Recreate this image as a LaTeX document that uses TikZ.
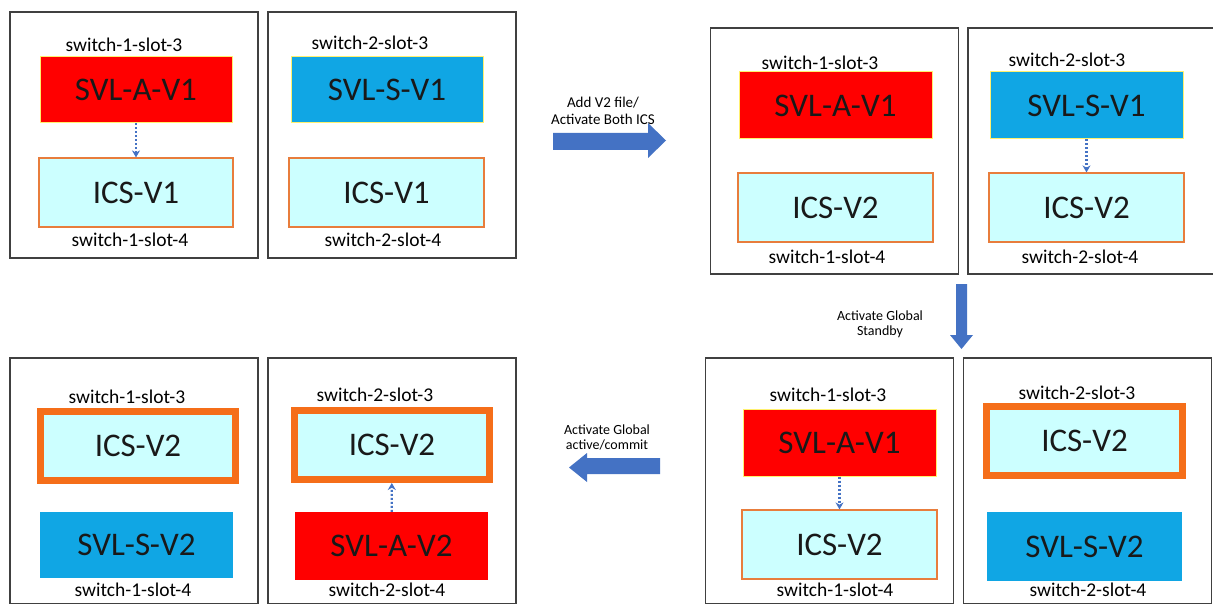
\documentclass[tikz,border=0pt]{standalone}
\usepackage{fontspec}
\setmainfont{Carlito}
\usetikzlibrary{arrows.meta}

\definecolor{svlred}{RGB}{255,0,0}
\definecolor{svlblue}{RGB}{16,166,228}
\definecolor{icscyan}{RGB}{204,255,255}
\definecolor{icsorange}{RGB}{232,125,60}
\definecolor{hotorange}{RGB}{245,110,25}
\definecolor{edgeyellow}{RGB}{255,240,110}
\definecolor{flowblue}{RGB}{68,114,196}

\tikzset{
  panel/.style={draw=black!75, line width=1.5pt, minimum width=248, minimum height=246, inner sep=0pt},
  slotlbl/.style={font=\fontsize{19.5}{22}\selectfont, inner sep=0pt},
  unit/.style={inner sep=0pt, font=\fontsize{33}{36}\selectfont, text=black!90},
  svla/.style={unit, fill=svlred, draw=edgeyellow, line width=1pt},
  svls/.style={unit, fill=svlblue, draw=edgeyellow, line width=1pt},
  svlsplain/.style={unit, fill=svlblue},
  svlaplain/.style={unit, fill=svlred},
  icsbox/.style={unit, fill=icscyan, draw=icsorange, line width=1.2pt},
  icsnew/.style={unit, fill=icscyan, draw=hotorange, line width=7pt},
  link/.style={draw=flowblue, line width=2.2pt, dash pattern=on 2pt off 2pt, -{Stealth[length=7pt,width=8pt]}},
  steptxt/.style={font=\fontsize{15}{17}\selectfont, align=center, inner sep=0pt},
  steptxtsm/.style={font=\fontsize{14}{15}\selectfont, align=center, inner sep=0pt}
}

\begin{document}
\begin{tikzpicture}[x=1pt,y=-1pt]
  \useasboundingbox (0,0) rectangle (1213,604);
  \clip (0,0) rectangle (1213,604);
  \fill[white] (0,0) rectangle (1213,604);

  % step 1: top left
  \node[panel] (p1) at (134,135) {};
  \node[panel] (p2) at (392,135) {};
  \node[slotlbl] (p1top) at (124,45) {switch-1-slot-3};
  \node[svla, minimum width=192, minimum height=66] (a1) at (136,90) {SVL-A-V1};
  \node[icsbox, minimum width=194, minimum height=69] (i1) at (136,192.5) {ICS-V1};
  \node[slotlbl] (p1bot) at (130,240) {switch-1-slot-4};
  \draw[link] (a1) -- (i1);
  \node[slotlbl] (p2top) at (370,43) {switch-2-slot-3};
  \node[svls, minimum width=192, minimum height=66] (s2) at (387,90) {SVL-S-V1};
  \node[icsbox, minimum width=195, minimum height=69] (i2) at (386.5,192.5) {ICS-V1};
  \node[slotlbl] (p2bot) at (383,240) {switch-2-slot-4};

  % arrow to step 2
  \fill[flowblue] (553,133) -- (648,133) -- (648,123) -- (666,140.5) -- (648,158) -- (648,150) -- (553,150) -- cycle;
  \node[steptxt] (addv2) at (603,111) {Add V2 file/\\Activate Both ICS};

  % step 2: top right
  \node[panel] (p3) at (834.5,151) {};
  \node[panel] (p4) at (1092,151) {};
  \node[slotlbl] (p3top) at (820,63) {switch-1-slot-3};
  \node[svla, minimum width=193, minimum height=67] (a3) at (835.5,105.5) {SVL-A-V1};
  \node[icsbox, minimum width=195, minimum height=69] (i3) at (835.5,207.5) {ICS-V2};
  \node[slotlbl] (p3bot) at (827,257) {switch-1-slot-4};
  \node[slotlbl] (p4top) at (1067,60) {switch-2-slot-3};
  \node[svls, minimum width=193, minimum height=67] (s4) at (1086.5,105.5) {SVL-S-V1};
  \node[icsbox, minimum width=195, minimum height=69] (i4) at (1086.5,207.5) {ICS-V2};
  \node[slotlbl] (p4bot) at (1080,257) {switch-2-slot-4};
  \draw[link] (s4) -- (i4);

  % arrow to step 3
  \fill[flowblue] (956,284) -- (967,284) -- (967,335) -- (973,335) -- (961.5,349) -- (950,335) -- (956,335) -- cycle;
  \node[steptxtsm] (stby) at (880,324) {Activate Global\\Standby};

  % step 3: bottom right
  \node[panel] (p5) at (829.5,481) {};
  \node[panel] (p6) at (1087.5,481) {};
  \node[slotlbl] (p5top) at (828,395) {switch-1-slot-3};
  \node[svla, minimum width=193, minimum height=67] (a5) at (839.5,442.5) {SVL-A-V1};
  \node[icsbox, minimum width=195, minimum height=69] (i5) at (839.5,544.5) {ICS-V2};
  \node[slotlbl] (p5bot) at (835,590) {switch-1-slot-4};
  \draw[link] (a5) -- (i5);
  \node[slotlbl] (p6top) at (1077,393) {switch-2-slot-3};
  \node[icsnew, minimum width=196, minimum height=69] (i6) at (1084.5,441) {ICS-V2};
  \node[svlsplain, minimum width=195, minimum height=69] (s6) at (1084.5,546.5) {SVL-S-V2};
  \node[slotlbl] (p6bot) at (1088,590) {switch-2-slot-4};

  % arrow to step 4
  \fill[flowblue] (660,458) -- (587,458) -- (587,453) -- (569,467.5) -- (587,482) -- (587,474) -- (660,474) -- cycle;
  \node[steptxtsm] (commit) at (607,437) {Activate Global\\active/commit};

  % step 4: bottom left
  \node[panel] (p7) at (134,481) {};
  \node[panel] (p8) at (392,481) {};
  \node[slotlbl] (p7top) at (127,397) {switch-1-slot-3};
  \node[icsnew, minimum width=195, minimum height=69] (i7) at (138,446) {ICS-V2};
  \node[svlsplain, minimum width=193, minimum height=66] (s7) at (136.5,545) {SVL-S-V2};
  \node[slotlbl] (p7bot) at (133,590) {switch-1-slot-4};
  \node[slotlbl] (p8top) at (375,395) {switch-2-slot-3};
  \node[icsnew, minimum width=195, minimum height=69] (i8) at (392,445) {ICS-V2};
  \node[svlaplain, minimum width=193, minimum height=68] (a8) at (391.5,546) {SVL-A-V2};
  \node[slotlbl] (p8bot) at (387,590) {switch-2-slot-4};
  \draw[link] (a8) -- (i8);
\end{tikzpicture}
\end{document}
